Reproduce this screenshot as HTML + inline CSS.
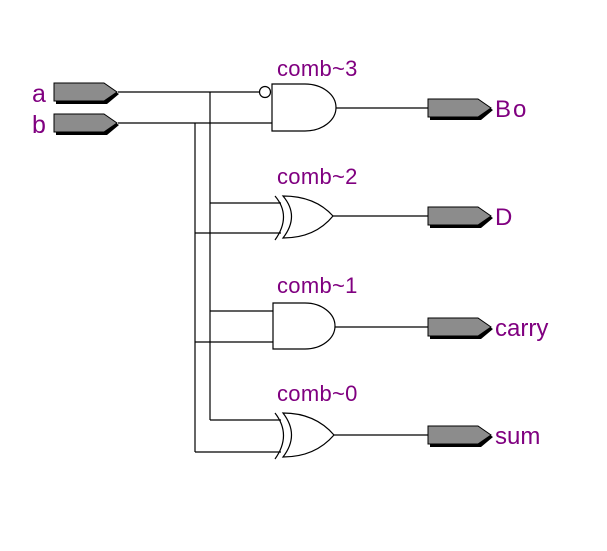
<!DOCTYPE html>
<html><head><style>
html,body{margin:0;padding:0;background:#fff;width:607px;height:551px;overflow:hidden}
svg{display:block}
text{font-family:"Liberation Sans",sans-serif;fill:#800080}
</style></head><body>
<svg width="607" height="551" viewBox="0 0 607 551" xmlns="http://www.w3.org/2000/svg">
<defs>
<g id="pin">
<path d="M2,2 H51 L65,11 L53,21 H2 Z" fill="#000"/>
<path d="M0,0 H50 L63,9 L50,18 H0 Z" fill="#8c8c8c" stroke="#000" stroke-width="1"/>
</g>
</defs>
<g stroke="#000" stroke-width="1.2" fill="none">
<path d="M118,92 H259"/>
<path d="M118,123 H272"/>
<path d="M210,92 V420"/>
<path d="M195,123 V452"/>
<path d="M210,203 H281 M195,233 H281"/>
<path d="M210,311 H273 M195,342 H273"/>
<path d="M210,420 H281 M195,452 H281"/>
<path d="M335,108 H428 M333,216 H428 M335,327 H428 M334,435 H428"/>
<path d="M272,84 H305 A31,23.5 0 0 1 305,131 H272 Z" fill="#fff"/>
<circle cx="265" cy="92" r="5.5" fill="#fff"/>
<path d="M273,303 H305 A30,23 0 0 1 305,349 H273 Z" fill="#fff"/>
<path d="M283,196 Q300,216 283,238 Q315,238 333,216 Q315,196 283,196 Z" fill="#fff"/>
<path d="M275,196 Q292,216 275,240"/>
<path d="M283,413 Q300,435 283,457 Q315,457 334,435 Q315,413 283,413 Z" fill="#fff"/>
<path d="M275,413 Q292,435 275,459"/>
</g>
<use href="#pin" x="54" y="83"/>
<use href="#pin" x="54" y="114"/>
<use href="#pin" x="428" y="99"/>
<use href="#pin" x="428" y="207"/>
<use href="#pin" x="428" y="318"/>
<use href="#pin" x="428" y="426"/>
<text x="32" y="102" font-size="25">a</text>
<text x="32" y="133" font-size="25">b</text>
<text x="495" y="117" font-size="24" letter-spacing="2">Bo</text>
<text x="495" y="225" font-size="24">D</text>
<text x="495" y="336" font-size="24">carry</text>
<text x="495" y="444" font-size="24">sum</text>
<text x="277" y="76" font-size="22" letter-spacing="0.3">comb~3</text>
<text x="277" y="184" font-size="22" letter-spacing="0.3">comb~2</text>
<text x="277" y="293" font-size="22" letter-spacing="0.3">comb~1</text>
<text x="277" y="401" font-size="22" letter-spacing="0.3">comb~0</text>
</svg>
</body></html>
